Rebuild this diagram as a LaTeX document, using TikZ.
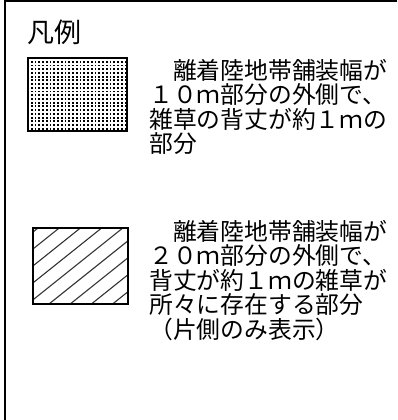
\documentclass[tikz,border=0pt]{standalone}
\usepackage{fontspec}
\newfontfamily\jpfont{Noto Sans CJK JP}
\tikzset{
  jptext/.style={anchor=base west, inner sep=0pt, font=\jpfont\fontsize{23.8}{24}\selectfont},
  titletext/.style={anchor=base west, inner sep=0pt, font=\jpfont\fontsize{27}{28}\selectfont},
  boxframe/.style={draw=black, line width=2pt},
  hatchline/.style={draw=black!80, line width=1.1pt},
}
\begin{document}
\begin{tikzpicture}[x=1pt,y=-1pt]
\useasboundingbox (0,0) rectangle (397,420);
% outer frame (top and left only visible)
\draw[line width=1.6pt] (5,420) -- (5,1) -- (397,1);
% title
\node[titletext] (title) at (27,42.5) {凡例};
% dotted legend box
\foreach \i in {0,...,25} {
  \foreach \j in {0,...,18} {
    \fill (30.8+\i*3.75,60.8+\j*3.72) rectangle ++(1.9,1.9);
  }
}
\draw[boxframe] (28,58) rectangle (127,131);
% hatched legend box
\begin{scope}
\clip (33,228) rectangle (128,304);
\foreach \k in {0,...,9} {
  \draw[hatchline] (38+\k*21.2,228) -- ++(-120,96);
}
\end{scope}
\draw[boxframe] (33,228) rectangle (128,304);
% text block 1
\node[jptext] (a1) at (149,79.5) {　離着陸地帯舗装幅が};
\node[jptext] (a2) at (149,103.9) {１０ｍ部分の外側で、};
\node[jptext] (a3) at (149,128.3) {雑草の背丈が約１ｍの};
\node[jptext] (a4) at (149,152.7) {部分};
% text block 2
\node[jptext] (b1) at (149,240.5) {　離着陸地帯舗装幅が};
\node[jptext] (b2) at (149,264.9) {２０ｍ部分の外側で、};
\node[jptext] (b3) at (149,289.3) {背丈が約１ｍの雑草が};
\node[jptext] (b4) at (149,313.7) {所々に存在する部分};
\node[jptext] (b5) at (149,338.1) {（片側のみ表示）};
\end{tikzpicture}
\end{document}
